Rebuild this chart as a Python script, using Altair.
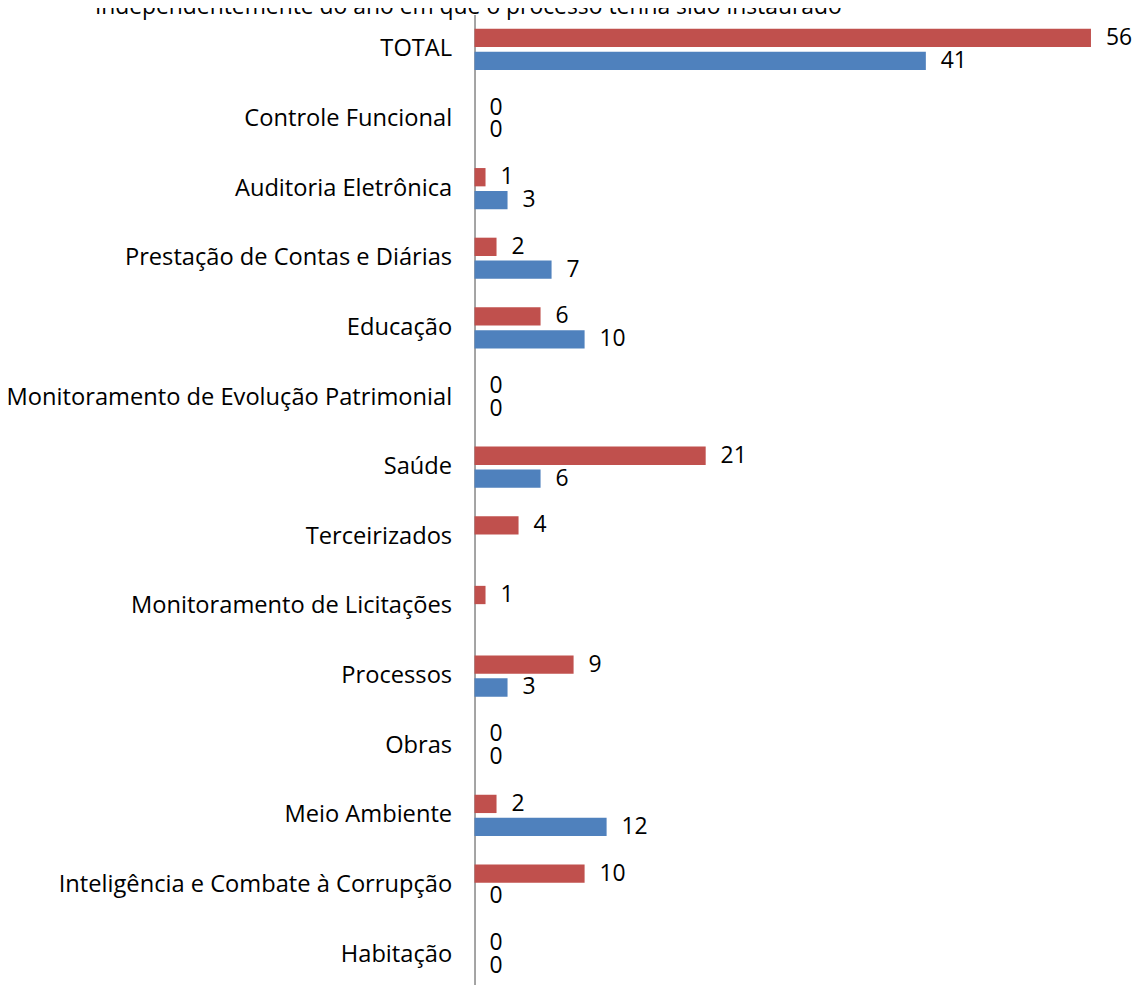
import altair as alt
import pandas as pd

categorias = [
    "TOTAL",
    "Controle Funcional",
    "Auditoria Eletrônica",
    "Prestação de Contas e Diárias",
    "Educação",
    "Monitoramento de Evolução Patrimonial",
    "Saúde",
    "Terceirizados",
    "Monitoramento de Licitações",
    "Processos",
    "Obras",
    "Meio Ambiente",
    "Inteligência e Combate à Corrupção",
    "Habitação",
]
serie2_vermelha = [56, 0, 1, 2, 6, 0, 21, 4, 1, 9, 0, 2, 10, 0]
serie1_azul = [41, 0, 3, 7, 10, 0, 6, None, None, 3, 0, 12, 0, 0]
series = ["Série2", "Série1"]
cores = ["#C0504D", "#4F81BD"]
titulo = "independentemente do ano em que o processo tenha sido instaurado"

rows = []
for c, r, b in zip(categorias, serie2_vermelha, serie1_azul):
    if r is not None:
        rows.append({"categoria": c, "serie": "Série2", "valor": r})
    if b is not None:
        rows.append({"categoria": c, "serie": "Série1", "valor": b})
df = pd.DataFrame(rows)

FONT = "Open Sans"
FS = 23

base = alt.Chart(df).encode(
    y=alt.Y(
        "categoria:N",
        sort=categorias,
        scale=alt.Scale(paddingInner=0.343, paddingOuter=0.171),
        axis=alt.Axis(
            title=None,
            ticks=False,
            labelPadding=23,
            labelFont=FONT,
            labelFontSize=23.8,
            labelColor="black",
            labelLimit=800,
            domainColor="#868686",
            domainWidth=1.5,
            grid=False,
        ),
    ),
    yOffset=alt.YOffset(
        "serie:N",
        sort=series,
        scale=alt.Scale(domain=series, paddingInner=0.2, paddingOuter=0.1),
    ),
    x=alt.X("valor:Q", scale=alt.Scale(domain=[0, 60], nice=False), axis=None),
)

bars = base.mark_bar().encode(
    color=alt.Color("serie:N", scale=alt.Scale(domain=series, range=cores), legend=None)
)

labels = base.mark_text(
    align="left", baseline="middle", dx=15, font=FONT, fontSize=FS, color="black"
).encode(text=alt.Text("valor:Q"))

title_layer = alt.Chart(pd.DataFrame({"t": [titulo]})).mark_text(
    align="center", baseline="alphabetic", font=FONT, fontSize=FS, color="black"
).encode(text="t:N", x=alt.value(-6), y=alt.value(-1))

chart = (
    alt.layer(bars, labels, title_layer)
    .properties(
        width=664,
        height=980,
        autosize=alt.AutoSizeParams(type="none"),
        padding={"left": 469, "top": 4, "right": 0, "bottom": 0},
    )
    .configure(background="white")
    .configure_view(stroke=None)
)

chart.save("out.html", embed_options={"renderer": "svg", "actions": False})
